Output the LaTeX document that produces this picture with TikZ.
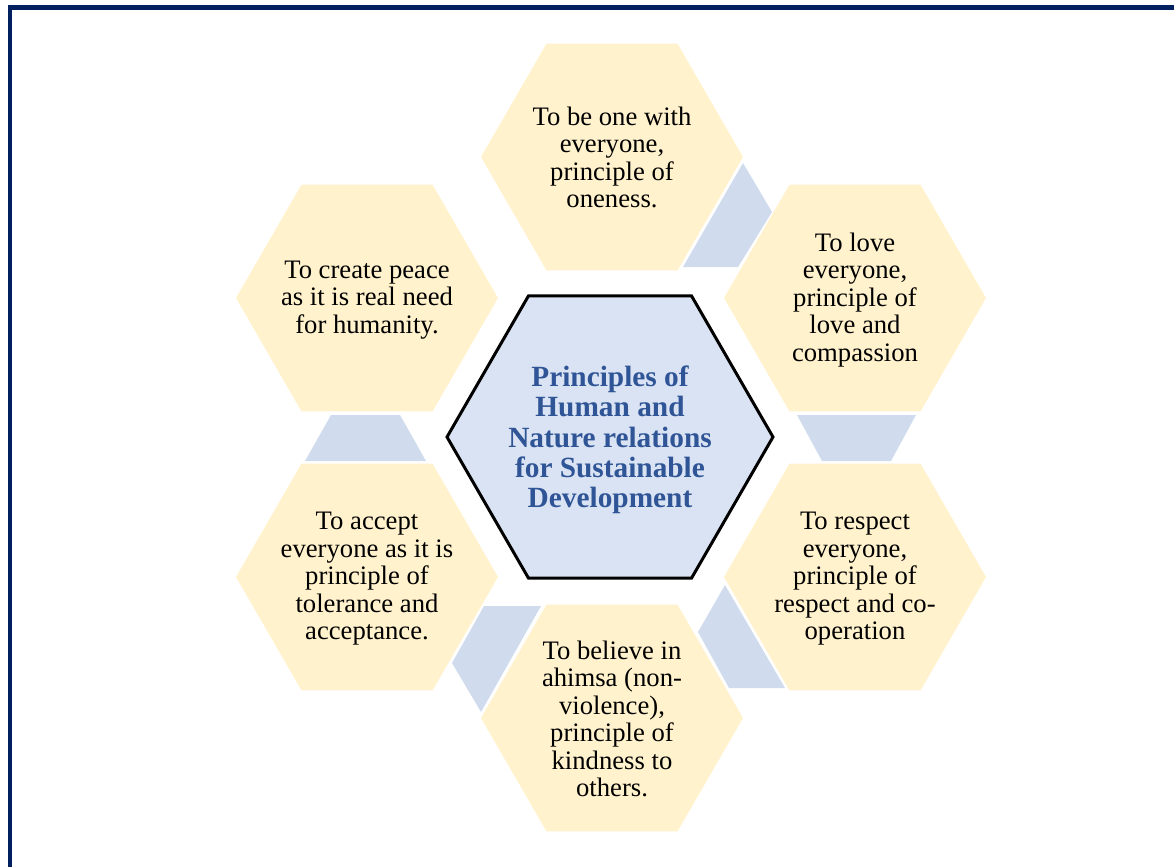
\documentclass[tikz,border=0pt]{standalone}
\usepackage{fontspec}
\setmainfont{Liberation Serif}
\usetikzlibrary{calc}
\definecolor{hexyellow}{HTML}{FFF2CC}
\definecolor{linkblue}{HTML}{D0DCEE}
\definecolor{centerfill}{HTML}{DAE3F3}
\definecolor{centerblue}{HTML}{2F5597}
\definecolor{framenavy}{HTML}{002060}
\newcommand{\HexShape}[3]{\path[#1] (#2) ++(0:#3) -- ++(120:#3) -- ++(180:#3) -- ++(240:#3) -- ++(300:#3) -- ++(0:#3) -- cycle;}
\begin{document}
\begin{tikzpicture}[x=0.75pt,y=-0.75pt,
  hextext/.style={align=center,font=\rmfamily\fontsize{20}{20.6}\selectfont,text=black,inner sep=0pt,yshift=-1.5pt},
  centertext/.style={align=center,font=\rmfamily\fontsize{22}{22.7}\selectfont\bfseries,text=centerblue,inner sep=0pt,yshift=-2.25pt},
  hexshape/.style={fill=hexyellow},
  centershape/.style={fill=centerfill,draw=black,line width=2.25pt,line join=miter},
  link/.style={fill=linkblue},
  frameline/.style={draw=framenavy,line width=3.4pt}]
\useasboundingbox (0,0) rectangle (1174,867);
% frame
\draw[frameline] (10,880) -- (10,7.5) -- (1185,7.5);
% centres
\coordinate (pc) at (610,437);
\coordinate (pt) at (612,157);
\coordinate (pur) at (855,298);
\coordinate (plr) at (855,577);
\coordinate (pb) at (612,718);
\coordinate (pll) at (367,577);
\coordinate (pul) at (367,298);
% links
\path[link] (743,163) -- (772,212) -- (738,267) -- (683,267) -- cycle;
\path[link] (797,415) -- (916,415) -- (891,461) -- (822,461) -- cycle;
\path[link] (725,585) -- (698,632) -- (729,688) -- (785,688) -- cycle;
\path[link] (484,606) -- (541,606) -- (481,712) -- (452,663) -- cycle;
\path[link] (331,415) -- (400,415) -- (426,461) -- (305,461) -- cycle;
% hexagons
\HexShape{hexshape}{pt}{131}
\HexShape{hexshape}{pur}{131}
\HexShape{hexshape}{plr}{131}
\HexShape{hexshape}{pb}{131}
\HexShape{hexshape}{pll}{131}
\HexShape{hexshape}{pul}{131}
\HexShape{centershape}{pc}{163}
% texts
\node[centertext] (center) at (pc) {Principles of\\Human and\\Nature relations\\for Sustainable\\Development};
\node[hextext,yshift=1pt] (top) at (pt) {To be one with\\everyone,\\principle of\\oneness.};
\node[hextext] (ur) at (pur) {To love\\everyone,\\principle of\\love and\\compassion};
\node[hextext] (lr) at (plr) {To respect\\everyone,\\principle of\\respect and co-\\operation};
\node[hextext,yshift=0.75pt] (bot) at (pb) {To believe in\\ahimsa (non-\\violence),\\principle of\\kindness to\\others.};
\node[hextext] (ll) at (pll) {To accept\\everyone as it is\\principle of\\tolerance and\\acceptance.};
\node[hextext] (ul) at (pul) {To create peace\\as it is real need\\for humanity.};
\end{tikzpicture}
\end{document}
